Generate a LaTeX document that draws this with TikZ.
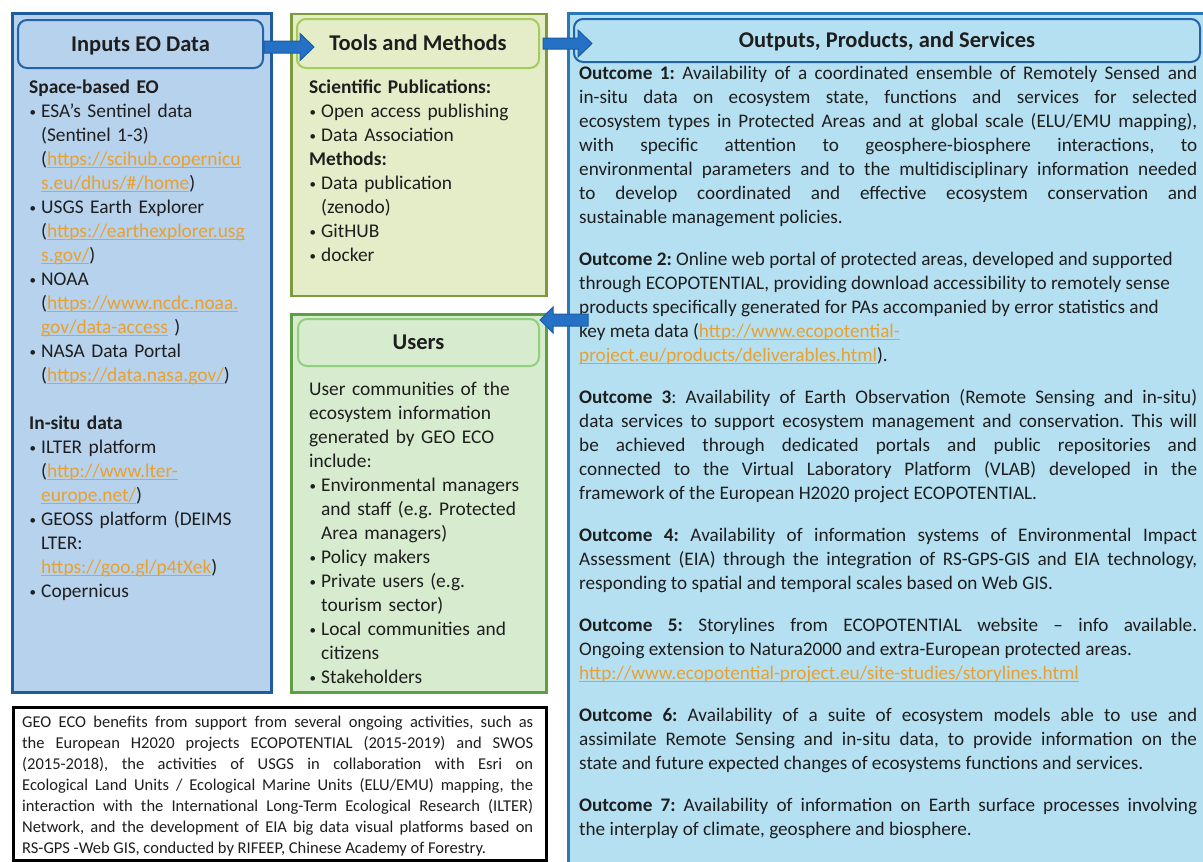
\documentclass[tikz,border=0pt]{standalone}
\usepackage{fontspec}
\setmainfont{Carlito}
\usetikzlibrary{calc}
\definecolor{inFill}{HTML}{B7D2ED}
\definecolor{inDraw}{HTML}{1F5C9E}
\definecolor{inHdr}{HTML}{2563A8}
\definecolor{toolFill}{HTML}{E4EDC8}
\definecolor{toolDraw}{HTML}{7D9A3C}
\definecolor{toolHdr}{HTML}{A4CB5C}
\definecolor{userFill}{HTML}{D7EBCF}
\definecolor{userDraw}{HTML}{5E9E44}
\definecolor{userHdr}{HTML}{8FD17A}
\definecolor{outFill}{HTML}{B5E0F2}
\definecolor{outDraw}{HTML}{2A78B8}
\definecolor{outHdr}{HTML}{1F64A8}
\definecolor{arrF}{HTML}{2471C5}
\definecolor{arrD}{HTML}{1B5DA0}
\definecolor{linkc}{HTML}{E8A030}
\definecolor{txt}{HTML}{1E1E1E}
\newcommand\lnk[1]{\textcolor{linkc}{\setbox0\hbox{#1}\rlap{\rule[-2.6pt]{\wd0}{1.2pt}}\box0}}
\newcommand\bul{\makebox[12pt][l]{\hspace{0.5pt}\raisebox{1.2pt}{\fontsize{13}{13}\selectfont•}}}
\newcommand\ind{\hspace*{12pt}}
\newcommand\blockarrow[5]{\filldraw[barrow] let \p1=#1, \p2=#2 in
  ({\x1},{\y1+#3}) -- ({\x2-(#5)},{\y1+#3}) -- ({\x2-(#5)},{\y1+#4}) -- ({\x2},{\y1})
  -- ({\x2-(#5)},{\y1-#4}) -- ({\x2-(#5)},{\y1-#3}) -- ({\x1},{\y1-#3}) -- cycle;}
\begin{document}
\frenchspacing
\begin{tikzpicture}[x=1pt,y=-1pt,
  box/.style={draw,line width=2.5pt,anchor=north west,inner sep=0pt,rectangle},
  hdr/.style={draw,line width=2pt,rounded corners=9pt,inner sep=0pt,text height=14pt,text depth=0pt,font=\fontsize{22.5}{24}\selectfont\bfseries,text=txt},
  body/.style={anchor=north west,inner sep=0pt,font=\fontsize{19.2}{24}\selectfont\frenchspacing,text=txt},
  side/.style={body,font=\fontsize{19.4}{24}\selectfont\frenchspacing,align=left},
  barrow/.style={fill=arrF,draw=arrD,line width=1pt,line join=miter}]
\useasboundingbox (0,0) rectangle (1203,862);
\fill[white] (0,0) rectangle (1203,862);
% outer boxes
\node[box,fill=inFill,draw=inDraw,minimum width=259pt,minimum height=679pt] (inbox) at (11,12) {};
\node[box,fill=toolFill,draw=toolDraw,minimum width=255pt,minimum height=282pt] (toolbox) at (290,12.5) {};
\node[box,fill=userFill,draw=userDraw,minimum width=255pt,minimum height=378pt] (userbox) at (290,313) {};
\node[box,fill=outFill,draw=outDraw,minimum width=650pt,minimum height=870pt] (outbox) at (567,12) {};
\node[box,fill=white,draw=black,minimum width=533pt,minimum height=153pt] (notebox) at (12,706) {};
% headers
\node[hdr,fill=inFill,draw=inHdr,minimum width=245pt,minimum height=48pt] (inhdr) at (140.5,44) {Inputs EO Data};
\node[hdr,fill=toolFill,draw=toolHdr,minimum width=242pt,minimum height=49pt] (toolhdr) at (418,43.5) {Tools and Methods};
\node[hdr,fill=userFill,draw=userHdr,minimum width=241pt,minimum height=47pt] (userhdr) at (418.5,342.5) {Users};
\node[hdr,fill=outFill,draw=outHdr,minimum width=626pt,minimum height=43pt] (outhdr) at (887,40.5) {Outputs, Products, and Services};
% inputs text
\node[side,text width=240pt] (intext) at (29,76.7) {\strut\textbf{Space-based EO}\\
\bul ESA’s Sentinel data\\
\ind (Sentinel 1-3)\\
\ind (\lnk{https://scihub.copernicu}\\
\ind \lnk{s.eu/dhus/\#/home})\\
\bul USGS Earth Explorer\\
\ind (\lnk{https://earthexplorer.usg}\\
\ind \lnk{s.gov/})\\
\bul NOAA\\
\ind (\lnk{https://www.ncdc.noaa.}\\
\ind \lnk{gov/data-access} )\\
\bul NASA Data Portal\\
\ind (\lnk{https://data.nasa.gov/})\\
\mbox{}\\
\textbf{In-situ data}\\
\bul ILTER platform\\
\ind (\lnk{http://www.lter-}\\
\ind \lnk{europe.net/})\\
\bul GEOSS platform (DEIMS\\
\ind LTER:\\
\ind \lnk{https://goo.gl/p4tXek})\\
\bul Copernicus};
% tools text
\node[side,text width=230pt] (tooltext) at (309,76.7) {\strut\textbf{Scientific Publications:}\\
\bul Open access publishing\\
\bul Data Association\\
\textbf{Methods:}\\
\bul Data publication\\
\ind (zenodo)\\
\bul GitHUB\\
\bul docker};
% users text
\node[side,text width=232pt] (usertext) at (309,378.7) {\strut User communities of the\\
ecosystem information\\
generated by GEO ECO\\
include:\\
\bul Environmental managers\\
\ind and staff (e.g. Protected\\
\ind Area managers)\\
\bul Policy makers\\
\bul Private users (e.g.\\
\ind tourism sector)\\
\bul Local communities and\\
\ind citizens\\
\bul Stakeholders};
% outputs text
\node[body,text width=618pt,align=justify] (outtext) at (579,62.2) {\hyphenpenalty=10000\exhyphenpenalty=10000\tolerance=9999\parindent=0pt
\strut\textbf{Outcome 1:} Availability of a coordinated ensemble of Remotely Sensed and\linebreak
in-situ data on ecosystem state, functions and services for selected\linebreak
ecosystem types in Protected Areas and at global scale (ELU/EMU mapping),\linebreak
with specific attention to geosphere-biosphere interactions, to\linebreak
environmental parameters and to the multidisciplinary information needed\linebreak
to develop coordinated and effective ecosystem conservation and\linebreak
sustainable management policies.\par\vspace{18pt}
\textbf{Outcome 2:} Online web portal of protected areas, developed and supported\newline
through ECOPOTENTIAL, providing download accessibility to remotely sense\newline
products specifically generated for PAs accompanied by error statistics and\newline
key meta data (\lnk{http://www.ecopotential-}\newline
\lnk{project.eu/products/deliverables.html}).\par\vspace{18pt}
\textbf{Outcome 3}: Availability of Earth Observation (Remote Sensing and in-situ)\linebreak
data services to support ecosystem management and conservation. This will\linebreak
be achieved through dedicated portals and public repositories and\linebreak
connected to the Virtual Laboratory Platform (VLAB) developed in the\linebreak
framework of the European H2020 project ECOPOTENTIAL.\par\vspace{18pt}
\textbf{Outcome 4:} Availability of information systems of Environmental Impact\linebreak
Assessment (EIA) through the integration of RS-GPS-GIS and EIA technology,\linebreak
responding to spatial and temporal scales based on Web GIS.\par\vspace{18pt}
\textbf{Outcome 5:} Storylines from ECOPOTENTIAL website – info available.\linebreak
Ongoing extension to Natura2000 and extra-European protected areas.\newline
\lnk{http://www.ecopotential-project.eu/site-studies/storylines.html}\par\vspace{18pt}
\textbf{Outcome 6:} Availability of a suite of ecosystem models able to use and\linebreak
assimilate Remote Sensing and in-situ data, to provide information on the\linebreak
state and future expected changes of ecosystems functions and services.\par\vspace{18pt}
\textbf{Outcome 7:} Availability of information on Earth surface processes involving\linebreak
the interplay of climate, geosphere and biosphere.};
% note text
\node[body,text width=511pt,align=justify,font=\fontsize{16.5}{21}\selectfont\frenchspacing] (notetext) at (22,712.3) {\hyphenpenalty=10000\exhyphenpenalty=10000\tolerance=9999\parindent=0pt
\strut GEO ECO benefits from support from several ongoing activities, such as\linebreak
the European H2020 projects ECOPOTENTIAL (2015-2019) and SWOS\linebreak
(2015-2018), the activities of USGS in collaboration with Esri on\linebreak
Ecological Land Units / Ecological Marine Units (ELU/EMU) mapping, the\linebreak
interaction with the International Long-Term Ecological Research (ILTER)\linebreak
Network, and the development of EIA big data visual platforms based on\linebreak
RS-GPS -Web GIS, conducted by RIFEEP, Chinese Academy of Forestry.};
% arrows
\coordinate (a1s) at ([yshift=-3pt]inhdr.east);
\coordinate (a1e) at ([xshift=18pt]toolhdr.west);
\blockarrow{(a1s)}{(a1e)}{6pt}{13.5pt}{14pt}
\coordinate (a2s) at ([xshift=3pt]toolhdr.east);
\coordinate (a2e) at ([xshift=19pt]outhdr.west);
\blockarrow{(a2s)}{(a2e)}{5.5pt}{13.5pt}{14pt}
\path (outbox.west |- userhdr.north east) ++(21pt,-2pt) coordinate (a3s);
\coordinate (a3e) at ([yshift=-1pt]userhdr.north east);
\blockarrow{(a3s)}{(a3e)}{6pt}{13pt}{-13pt}
\end{tikzpicture}
\end{document}
